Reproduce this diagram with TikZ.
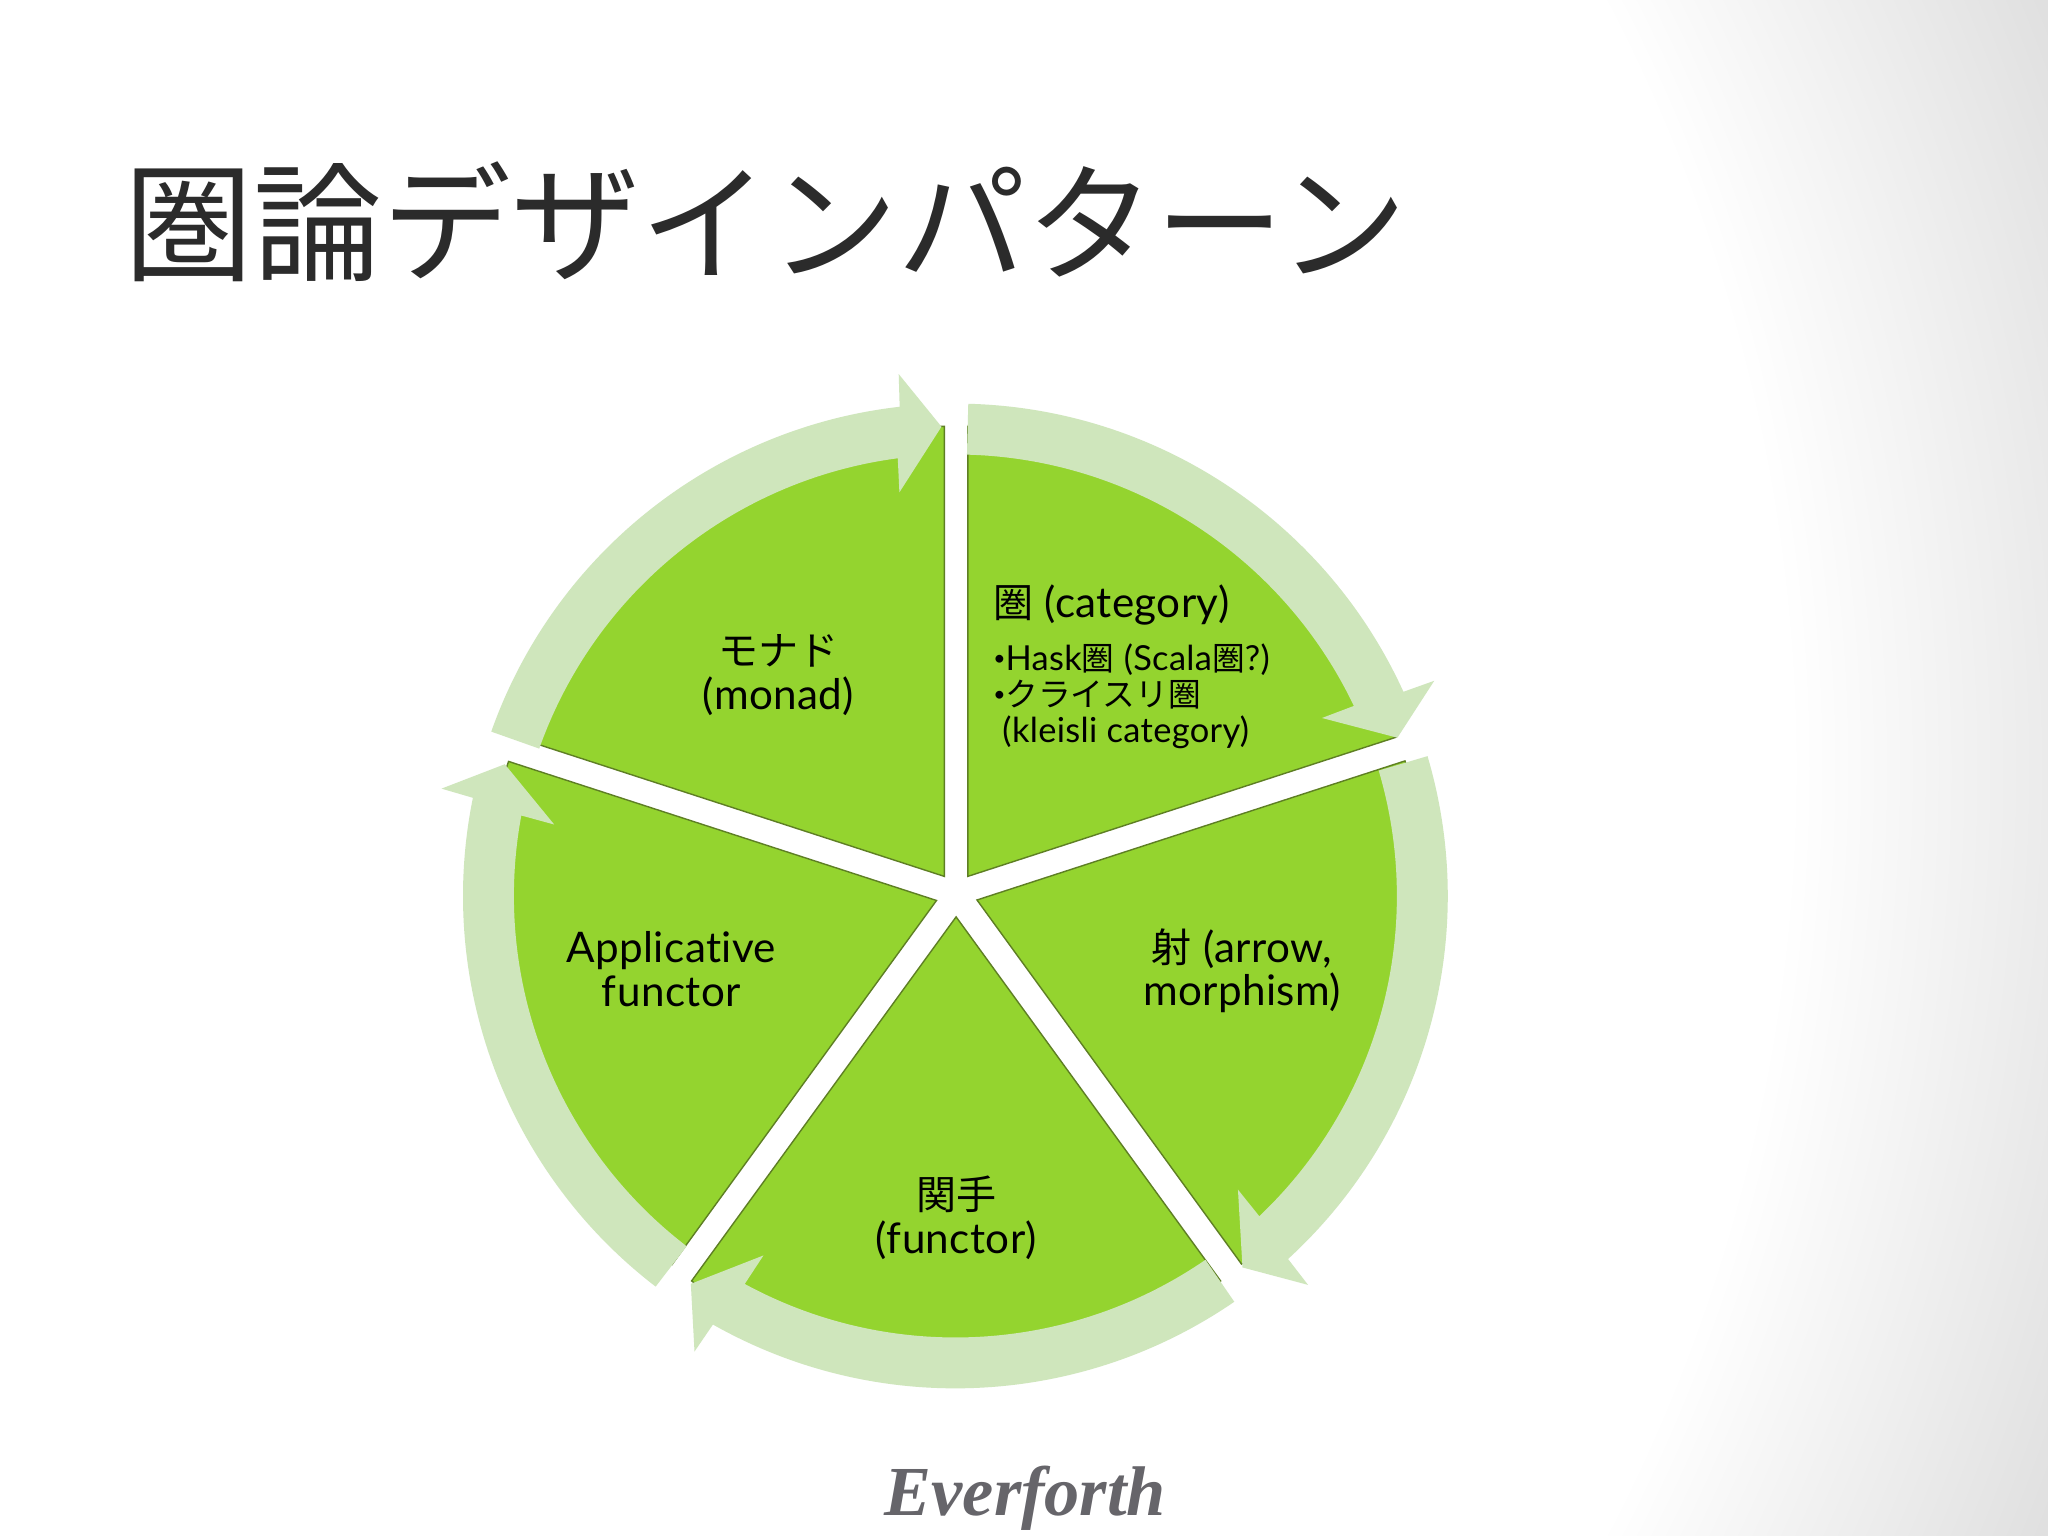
\documentclass[tikz,border=0pt]{standalone}
\usepackage{fontspec}
\setmainfont{Lato}[LetterSpace=1, Ligatures=NoCommon]
\newfontfamily\cjk{Noto Sans CJK JP}[Scale=0.95]
\newfontfamily\logofont{Liberation Serif}
\usetikzlibrary{calc}
\definecolor{wedgegreen}{HTML}{94D42F}
\definecolor{wedgeedge}{HTML}{5E7F24}
\definecolor{bandgreen}{HTML}{CFE6BC}
\definecolor{titlegray}{HTML}{2B2B2B}
\definecolor{logogray}{HTML}{66656A}
\pgfdeclareradialshading{backshade}{\pgfpoint{0bp}{0bp}}{color(0bp)=(white); color(19.6bp)=(white); color(24.5bp)=(black!12.5); color(25bp)=(black!13)}
\newcommand{\dotmark}{\raisebox{0.25ex}{\fontsize{6}{6}\selectfont•}}
\tikzset{
    wedge/.style={draw=wedgeedge, line width=0.4pt, fill=wedgegreen},
    band/.style={fill=bandgreen},
    big/.style={align=center, text=black, font=\fontsize{12}{12.4}\selectfont},
    small/.style={align=left, text=black, font=\fontsize{9.8}{10.2}\selectfont}
}
\begin{document}
\begin{tikzpicture}
    \useasboundingbox (0,0) rectangle (20.48,15.36);
    \begin{scope}
        \clip (0,0) rectangle (20.48,15.36);
        \shade[shading=backshade] (1.43,7.68) circle (21);
    \end{scope}

    \foreach \x\y\a in {9.678/6.596/90, 9.770/6.360/18, 9.561/6.191/-54, 9.365/6.355/-126, 9.443/6.596/-198} {
        \draw[wedge] (\x,\y) -- +(\a:4.5) arc[start angle=\a, end angle=\a-72, radius=4.5] -- cycle;
    }

    \begin{scope}[shift={(9.554,6.40)}]
        \foreach \k in {0,...,4} {
            \fill[band] ({88.5-72*\k}:4.924) arc[start angle={88.5-72*\k}, end angle={24.5-72*\k}, radius=4.924]
                -- ({24.2-72*\k}:5.25) -- ({19.7-72*\k}:4.695) -- ({25.9-72*\k}:4.075) -- ({25.5-72*\k}:4.415)
                arc[start angle={25.5-72*\k}, end angle={88.5-72*\k}, radius=4.415] -- cycle;
        }
    \end{scope}

    \node[anchor=west, text=titlegray, font=\fontsize{38.6}{44}\selectfont\cjk, inner sep=0pt] (title) at (1.24,13.14) {圏論デザインパターン};

    \node[big] (monad) at (7.784,8.61) {{\cjk モナド}\\(monad)};
    \node[big, anchor=west, inner sep=0pt] (category) at (9.926,9.31) {{\cjk 圏} (category)};
    \node[small, anchor=west, inner sep=0pt] (kinds) at (9.926,8.40) {\dotmark Hask{\cjk 圏} (Scala{\cjk 圏}?)\\\dotmark{\cjk クライスリ圏}\\\ (kleisli category)};
    \node[big] (arrow) at (12.421,5.652) {{\cjk 射} (arrow,\\morphism)};
    \node[big] (functor) at (9.561,3.183) {{\cjk 関手}\\(functor)};
    \node[big] (applicative) at (6.713,5.669) {Applicative\\functor};

    \node[text=logogray, font=\fontsize{20}{24}\selectfont\logofont\bfseries\itshape] (logo) at (10.253,0.375) {Everforth};
\end{tikzpicture}
\end{document}
